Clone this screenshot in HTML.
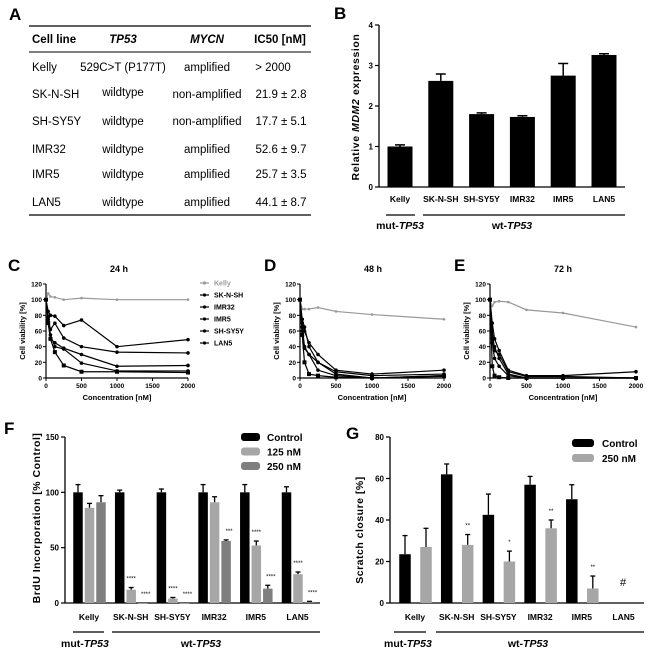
<!DOCTYPE html>
<html><head><meta charset="utf-8">
<style>
html,body{margin:0;padding:0;background:#fff;}
svg{display:block;font-family:"Liberation Sans",Arial,sans-serif;}
.b{font-weight:bold;}
</style></head>
<body>
<svg id="fig" width="650" height="654" viewBox="0 0 650 654" xmlns="http://www.w3.org/2000/svg">
<!-- Panel A -->
<g>
<text x="9" y="20" font-size="17" class="b">A</text>
<line x1="29" y1="26" x2="311" y2="26" stroke="#000" stroke-width="1.3"/>
<line x1="29" y1="52" x2="311" y2="52" stroke="#000" stroke-width="1"/>
<line x1="29" y1="215" x2="311" y2="215" stroke="#000" stroke-width="1.3"/>
<g font-size="11.5" class="b">
<text x="32" y="43">Cell line</text>
<text x="123" y="43" text-anchor="middle" font-style="italic">TP53</text>
<text x="207" y="43" text-anchor="middle" font-style="italic">MYCN</text>
<text x="280" y="43" text-anchor="middle">IC50 [nM]</text>
</g>
<g font-size="11.5">
<text x="32" y="71">Kelly</text><text x="123" y="71" text-anchor="middle">529C&gt;T (P177T)</text><text x="207" y="71" text-anchor="middle">amplified</text><text x="273" y="71" text-anchor="middle">&gt; 2000</text>
<text x="32" y="98">SK-N-SH</text><text x="123" y="96" text-anchor="middle">wildtype</text><text x="207" y="98" text-anchor="middle">non-amplified</text><text x="281" y="98" text-anchor="middle">21.9 ± 2.8</text>
<text x="32" y="125">SH-SY5Y</text><text x="123" y="125" text-anchor="middle">wildtype</text><text x="207" y="125" text-anchor="middle">non-amplified</text><text x="281" y="125" text-anchor="middle">17.7 ± 5.1</text>
<text x="32" y="153">IMR32</text><text x="123" y="153" text-anchor="middle">wildtype</text><text x="207" y="153" text-anchor="middle">amplified</text><text x="281" y="153" text-anchor="middle">52.6 ± 9.7</text>
<text x="32" y="178">IMR5</text><text x="123" y="178" text-anchor="middle">wildtype</text><text x="207" y="178" text-anchor="middle">amplified</text><text x="281" y="178" text-anchor="middle">25.7 ± 3.5</text>
<text x="32" y="206">LAN5</text><text x="123" y="206" text-anchor="middle">wildtype</text><text x="207" y="206" text-anchor="middle">amplified</text><text x="281" y="206" text-anchor="middle">44.1 ± 8.7</text>
</g>
</g>
<g id="pB"></g>
<g id="pC"></g>
<g id="pD"></g>
<g id="pE"></g>
<g id="pF"></g>
<g id="pG"></g>
</svg>
<script>
// ---- data ----
const cellLines = ["Kelly","SK-N-SH","SH-SY5Y","IMR32","IMR5","LAN5"];
const mdm2Values = [1.0, 2.62, 1.8, 1.73, 2.75, 3.26];
const mdm2Errors = [0.04, 0.17, 0.03, 0.03, 0.3, 0.03];
const mdm2Ticks = [0,1,2,3,4];

const concentrations = [0, 31, 62.5, 125, 250, 500, 1000, 2000];
const viabilityTicksY = [0,20,40,60,80,100,120];
const viabilityTicksX = [0,500,1000,1500,2000];
const seriesNames = ["Kelly","SK-N-SH","IMR32","IMR5","SH-SY5Y","LAN5"];
const v24Kelly = [100,108,104,103,100,102,100,100];
const v24SKNSH = [100,85,80,79,67,74,40,49];
const v24IMR32 = [100,75,62,70,51,40,33,32];
const v24IMR5 = [100,72,50,45,38,30,15,16];
const v24SHSY5Y = [100,70,50,33,16,8,8,7];
const v24LAN5 = [100,78,55,40,37,19,9,9];
const v48Kelly = [100,88,88,88,90,85,81,75];
const v48SKNSH = [100,70,60,45,30,10,5,10];
const v48IMR32 = [100,65,40,30,20,8,3,5];
const v48IMR5 = [100,60,38,30,10,3,0,3];
const v48SHSY5Y = [100,55,20,5,3,1,0,2];
const v48LAN5 = [100,75,65,40,20,5,0,3];
const v72Kelly = [100,92,97,98,97,87,83,65];
const v72SKNSH = [100,70,50,35,10,3,3,8];
const v72IMR32 = [100,50,40,25,5,0,0,0];
const v72IMR5 = [100,45,25,15,3,0,0,0];
const v72SHSY5Y = [100,15,3,1,0,0,0,0];
const v72LAN5 = [100,60,35,30,8,2,2,0];

const brduControl = [100,100,100,100,100,100];
const brduControlErr = [7,2,3,7,7,5];
const brdu125 = [86,12,4,91,52,26];
const brdu125Err = [4,2,1,5,4,2];
const brdu250 = [91,0,0,56,13,1];
const brdu250Err = [6,0,0,1,3,0.5];
const brduStars125 = ["","****","****","","****","****"];
const brduStars250 = ["","****","****","***","****","****"];
const brduTicks = [0,50,100,150];

const scratchControl = [23.5,62,42.5,57,50,null];
const scratchControlErr = [9,5,10,4,7,0];
const scratch250 = [27,28,20,36,7,null];
const scratch250Err = [9,5,5,4,6,0];
const scratchStars = ["","**","*","**","**",""];
const scratchTicks = [0,20,40,60,80];

// ---- helpers ----
const NS="http://www.w3.org/2000/svg";
function mk(parent, tag, attrs, txt){
  const e=document.createElementNS(NS,tag);
  for(const k in attrs) e.setAttribute(k,attrs[k]);
  if(txt!==undefined) e.textContent=txt;
  parent.appendChild(e); return e;
}
function lin(d0,d1,r0,r1){return v=>r0+(v-d0)*(r1-r0)/(d1-d0);}

// ---- Panel B ----
(function(){
  const g=document.getElementById('pB');
  const y=lin(0,4,187,25), x0=379, cx=i=>400+i*40.8;
  let t=mk(g,'text',{x:334,y:19,'font-size':17,'class':'b'},'B');
  
  
  mk(g,'line',{x1:x0,y1:y(4),x2:x0,y2:y(0),stroke:'#000','stroke-width':1.3});
  mk(g,'line',{x1:x0,y1:y(0),x2:625,y2:y(0),stroke:'#000','stroke-width':1.3});
  mdm2Ticks.forEach(v=>{
    mk(g,'line',{x1:x0-4,y1:y(v),x2:x0,y2:y(v),stroke:'#000','stroke-width':1.2});
    const tk=mk(g,'text',{x:x0-6,y:y(v)+3,'font-size':8,'class':'b','text-anchor':'end'},v);
    
    
  });
  mdm2Values.forEach((v,i)=>{
    const c=cx(i);
    mk(g,'line',{x1:c,y1:y(v),x2:c,y2:y(v+mdm2Errors[i]),stroke:'#000','stroke-width':1.5});
    mk(g,'line',{x1:c-5,y1:y(v+mdm2Errors[i]),x2:c+5,y2:y(v+mdm2Errors[i]),stroke:'#000','stroke-width':1.5});
    const r=mk(g,'rect',{x:c-12.5,y:y(v),width:25,height:y(0)-y(v),fill:'#000'});
    
    
    const l=mk(g,'text',{x:c,y:202,'font-size':8.5,'class':'b','text-anchor':'middle'},cellLines[i]);
    
    
  });
  const yt=mk(g,'text',{x:0,y:0,'font-size':10.5,'class':'b','text-anchor':'middle','letter-spacing':'0.6',transform:'translate(359,107) rotate(-90)'});
  
  
  yt.innerHTML='Relative <tspan font-style="italic">MDM2</tspan> expression';
  mk(g,'line',{x1:386,y1:215,x2:415,y2:215,stroke:'#000','stroke-width':1.2});
  mk(g,'line',{x1:423,y1:215,x2:625,y2:215,stroke:'#000','stroke-width':1.2});
  const m=mk(g,'text',{x:400,y:229,'font-size':10.5,'class':'b','text-anchor':'middle'});
  m.innerHTML='mut-<tspan font-style="italic">TP53</tspan>';
  
  
  const w=mk(g,'text',{x:512,y:229,'font-size':10.5,'class':'b','text-anchor':'middle'});
  w.innerHTML='wt-<tspan font-style="italic">TP53</tspan>';
  
  
})();

// ---- Panels C, D, E ----
function lineChart(id, letter, lx, title, tx, ax, ax2, series, legend){
  const g=document.getElementById(id);
  const x=lin(0,2000,ax,ax2), y=lin(0,120,378,284);
  const L=mk(g,'text',{x:lx,y:271,'font-size':17,'class':'b'},letter);
  
  
  const T=mk(g,'text',{x:tx,y:272,'font-size':9,'class':'b','text-anchor':'middle'},title);
  
  
  mk(g,'line',{x1:ax,y1:y(120),x2:ax,y2:y(0),stroke:'#000','stroke-width':1.2});
  mk(g,'line',{x1:ax,y1:y(0),x2:ax2,y2:y(0),stroke:'#000','stroke-width':1.2});
  viabilityTicksY.forEach(v=>{
    mk(g,'line',{x1:ax-3,y1:y(v),x2:ax,y2:y(v),stroke:'#000'});
    const tk=mk(g,'text',{x:ax-4,y:y(v)+2.5,'font-size':6.5,'class':'b','text-anchor':'end'},v);
    
    
  });
  viabilityTicksX.forEach(v=>{
    mk(g,'line',{x1:x(v),y1:y(0),x2:x(v),y2:y(0)+3,stroke:'#000'});
    const tk=mk(g,'text',{x:x(v),y:388,'font-size':6.5,'class':'b','text-anchor':'middle'},v);
    
    
  });
  const xt=mk(g,'text',{x:(ax+ax2)/2,y:400,'font-size':7.5,'class':'b','text-anchor':'middle'},'Concentration [nM]');
  
  
  const yt=mk(g,'text',{x:0,y:0,'font-size':7.5,'class':'b','text-anchor':'middle',transform:'translate('+(ax-21)+',331) rotate(-90)'},'Cell viability [%]');
  
  
  series.forEach((s,si)=>{
    const col=si===0?'#999':'#000';
    const pts=s.map((v,i)=>x(concentrations[i])+','+y(v)).join(' ');
    const pl=mk(g,'polyline',{points:pts,fill:'none',stroke:col,'stroke-width':1.2});
    
    
    s.forEach((v,i)=>{
      const p=mk(g,si===4?'rect':'circle',si===4?{x:x(concentrations[i])-2,y:y(v)-2,width:4,height:4,fill:col}:{cx:x(concentrations[i]),cy:y(v),r:si===0?1.3:1.8,fill:col});
      
      
    });
  });
  if(legend){
    seriesNames.forEach((n,i)=>{
      const yy=283+i*12;
      const col=i===0?'#999':'#000';
      mk(g,'line',{x1:200,y1:yy,x2:209,y2:yy,stroke:col,'stroke-width':1.2});
      mk(g,'circle',{cx:204.5,cy:yy,r:1.6,fill:col});
      const t=mk(g,'text',{x:214,y:yy+2.5,'font-size':7,'class':'b',fill:col},n);
      
      
    });
  }
}
lineChart('pC','C',8,'24 h',119,46,188,[v24Kelly,v24SKNSH,v24IMR32,v24IMR5,v24SHSY5Y,v24LAN5],true);
lineChart('pD','D',264,'48 h',373,300,444,[v48Kelly,v48SKNSH,v48IMR32,v48IMR5,v48SHSY5Y,v48LAN5],false);
lineChart('pE','E',454,'72 h',563,490,636,[v72Kelly,v72SKNSH,v72IMR32,v72IMR5,v72SHSY5Y,v72LAN5],false);

// ---- grouped bar helper ----
function groupAxes(g, ax, ax2, y, ticks, catX, mut, wt, wtc){
  mk(g,'line',{x1:ax,y1:y(ticks[ticks.length-1]),x2:ax,y2:y(0),stroke:'#000','stroke-width':1.3});
  mk(g,'line',{x1:ax,y1:y(0),x2:ax2,y2:y(0),stroke:'#000','stroke-width':1.3});
  ticks.forEach(v=>{
    mk(g,'line',{x1:ax-4,y1:y(v),x2:ax,y2:y(v),stroke:'#000','stroke-width':1.2});
    const tk=mk(g,'text',{x:ax-6,y:y(v)+3,'font-size':8,'class':'b','text-anchor':'end'},v);
    
    
  });
  cellLines.forEach((n,i)=>{
    const l=mk(g,'text',{x:catX(i),y:620,'font-size':8.5,'class':'b','text-anchor':'middle'},n);
    
    
  });
  mk(g,'line',{x1:mut[0],y1:632,x2:mut[1],y2:632,stroke:'#000','stroke-width':1.2});
  mk(g,'line',{x1:wt[0],y1:632,x2:wt[1],y2:632,stroke:'#000','stroke-width':1.2});
  const m=mk(g,'text',{x:mut[2],y:647,'font-size':10.5,'class':'b'});
  m.innerHTML='mut-<tspan font-style="italic">TP53</tspan>';
  
  
  const w=mk(g,'text',{x:wtc,y:647,'font-size':10.5,'class':'b','text-anchor':'middle'});
  w.innerHTML='wt-<tspan font-style="italic">TP53</tspan>';
  
  
}
function bar(g,c,w,v,e,y,fill,name){
  if(v===null) return;
  if(e>0){
    mk(g,'line',{x1:c,y1:y(v),x2:c,y2:y(v+e),stroke:'#000','stroke-width':1.3});
    mk(g,'line',{x1:c-2.5,y1:y(v+e),x2:c+2.5,y2:y(v+e),stroke:'#000','stroke-width':1.3});
  }
  const r=mk(g,'rect',{x:c-w/2,y:y(v),width:w,height:Math.max(0.5,y(0)-y(v)),fill:fill});
  
  
}

// ---- Panel F ----
(function(){
  const g=document.getElementById('pF');
  const y=lin(0,150,603,437), cx=i=>78+i*41.7;
  const L=mk(g,'text',{x:4,y:434,'font-size':17,'class':'b'},'F');
  
  
  groupAxes(g,65,320,y,brduTicks,i=>cx(i)+11,[73,104,61],[112,320],201);
  cellLines.forEach((n,i)=>{
    const c=cx(i);
    bar(g,c,9.5,brduControl[i],brduControlErr[i],y,'#000','bar-control-'+n.toLowerCase());
    bar(g,c+11.5,9.5,brdu125[i],brdu125Err[i],y,'#a6a6a6','bar-125nm-'+n.toLowerCase());
    bar(g,c+23,9.5,brdu250[i],brdu250Err[i],y,'#7f7f7f','bar-250nm-'+n.toLowerCase());
    if(brduStars125[i]){
      const s=mk(g,'text',{x:c+11.5,y:y(brdu125[i]+brdu125Err[i])-7,'font-size':6,'text-anchor':'middle'},brduStars125[i]);
      
      
    }
    if(brduStars250[i]){
      const s=mk(g,'text',{x:c+26,y:y(brdu250[i]+brdu250Err[i])-7,'font-size':6,'text-anchor':'middle'},brduStars250[i]);
      
      
    }
  });
  const yt=mk(g,'text',{x:0,y:0,'font-size':10.5,'class':'b','text-anchor':'middle','letter-spacing':'0.5',transform:'translate(40,518) rotate(-90)'},'BrdU Incorporation [% Control]');
  
  
  [['Control','#000'],['125 nM','#a6a6a6'],['250 nM','#7f7f7f']].forEach((d,i)=>{
    const yy=437+i*14.5;
    mk(g,'rect',{x:241,y:yy-4,width:19,height:8,rx:3,fill:d[1]});
    const t=mk(g,'text',{x:267,y:yy+4,'font-size':10,'class':'b'},d[0]);
    
    
  });
})();

// ---- Panel G ----
(function(){
  const g=document.getElementById('pG');
  const y=lin(0,80,603,437), cx=i=>405+i*41.7;
  const L=mk(g,'text',{x:346,y:439,'font-size':17,'class':'b'},'G');
  
  
  groupAxes(g,390,644,y,scratchTicks,i=>cx(i)+10,[394,426,384],[436,644],528);
  cellLines.forEach((n,i)=>{
    const c=cx(i);
    bar(g,c,11.5,scratchControl[i],scratchControlErr[i],y,'#000','bar-control-'+n.toLowerCase());
    bar(g,c+21,11.5,scratch250[i],scratch250Err[i],y,'#a6a6a6','bar-250nm-'+n.toLowerCase());
    if(scratchStars[i]){
      const s=mk(g,'text',{x:c+21,y:y(scratch250[i]+scratch250Err[i])-7,'font-size':6,'text-anchor':'middle'},scratchStars[i]);
      
      
    }
  });
  const h=mk(g,'text',{x:623,y:586,'font-size':11,'text-anchor':'middle'},'#');
  
  
  const yt=mk(g,'text',{x:0,y:0,'font-size':10.5,'class':'b','text-anchor':'middle','letter-spacing':'0.5',transform:'translate(363,530) rotate(-90)'},'Scratch closure [%]');
  
  
  [['Control','#000'],['250 nM','#a6a6a6']].forEach((d,i)=>{
    const yy=443+i*15;
    mk(g,'rect',{x:572,y:yy-4,width:22,height:8,rx:3,fill:d[1]});
    const t=mk(g,'text',{x:602,y:yy+4,'font-size':10,'class':'b'},d[0]);
    
    
  });
})();
</script>
</body></html>
